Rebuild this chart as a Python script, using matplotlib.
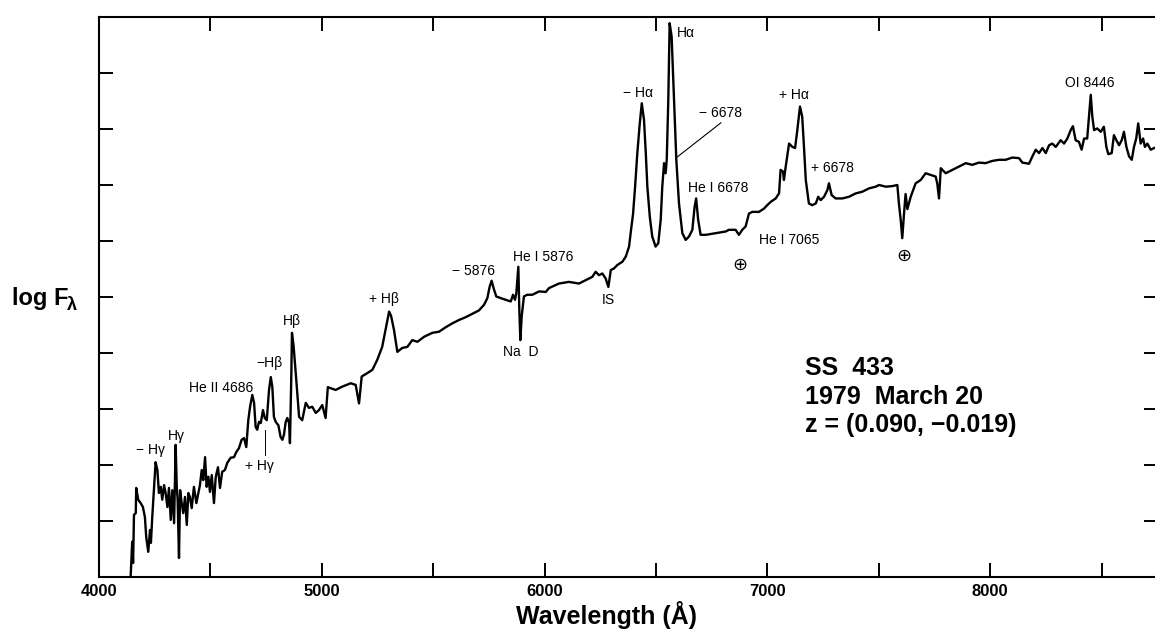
import numpy as np
import matplotlib
matplotlib.use('Agg')
import matplotlib.pyplot as plt
from matplotlib.ticker import MultipleLocator, NullFormatter

plt.rcParams['font.family'] = ['Liberation Sans', 'DejaVu Sans']

# spectrum of SS 433 (wavelength in A, log F in arbitrary axis units 0-10)
wavelength = [4142, 4149, 4153, 4157, 4165, 4167, 4176, 4187, 4197, 4206, 4212, 4221, 4229, 4233, 4239,
              4247, 4254, 4262, 4269, 4277, 4284, 4292, 4299, 4307, 4314, 4322, 4329, 4337, 4344, 4349,
              4353, 4359, 4364, 4371, 4378, 4386, 4394, 4401, 4408, 4416, 4426, 4437, 4446, 4453, 4461,
              4468, 4476, 4483, 4491, 4498, 4506, 4516, 4524, 4534, 4543, 4553, 4565, 4576, 4591, 4606,
              4616, 4628, 4640, 4651, 4661, 4670, 4678, 4688, 4696, 4703, 4710, 4718, 4726, 4736, 4744,
              4753, 4763, 4771, 4778, 4785, 4793, 4805, 4815, 4823, 4830, 4838, 4845, 4853, 4857, 4863,
              4866, 4873, 4883, 4898, 4912, 4928, 4942, 4957, 4973, 4987, 5002, 5017, 5027, 5062, 5092,
              5130, 5152, 5167, 5179, 5204, 5227, 5249, 5271, 5289, 5302, 5311, 5324, 5339, 5361, 5384,
              5406, 5429, 5459, 5496, 5526, 5556, 5586, 5616, 5646, 5675, 5705, 5728, 5743, 5753, 5762,
              5773, 5783, 5803, 5825, 5848, 5858, 5867, 5873, 5882, 5886, 5891, 5897, 5907, 5922, 5945,
              5975, 6005, 6020, 6064, 6109, 6154, 6184, 6214, 6229, 6244, 6259, 6274, 6286, 6297, 6311,
              6326, 6349, 6364, 6379, 6386, 6397, 6406, 6416, 6427, 6436, 6446, 6454, 6461, 6472, 6483,
              6498, 6510, 6521, 6528, 6536, 6543, 6548, 6555, 6561, 6570, 6581, 6591, 6603, 6618, 6633,
              6648, 6663, 6673, 6680, 6689, 6700, 6723, 6768, 6813, 6827, 6857, 6872, 6887, 6902, 6917,
              6932, 6962, 6985, 6999, 7015, 7037, 7052, 7059, 7070, 7074, 7082, 7097, 7112, 7124, 7134,
              7146, 7156, 7164, 7172, 7186, 7201, 7217, 7228, 7239, 7254, 7269, 7276, 7288, 7306, 7336,
              7366, 7396, 7426, 7456, 7486, 7501, 7531, 7560, 7583, 7590, 7598, 7605, 7613, 7620, 7628,
              7643, 7665, 7688, 7710, 7733, 7755, 7762, 7770, 7778, 7800, 7830, 7860, 7890, 7919, 7949,
              7979, 8009, 8039, 8069, 8099, 8129, 8144, 8174, 8189, 8204, 8219, 8234, 8249, 8264, 8278,
              8294, 8316, 8331, 8346, 8361, 8371, 8383, 8398, 8410, 8421, 8435, 8443, 8451, 8458, 8466,
              8480, 8496, 8510, 8521, 8530, 8545, 8555, 8566, 8578, 8590, 8600, 8611, 8623, 8635, 8645,
              8655, 8664, 8675, 8686, 8694, 8705, 8720, 8735]

log_flux = [0.00, 0.63, 0.25, 1.11, 1.14, 1.59, 1.38, 1.32, 1.25, 1.07, 0.71, 0.45, 0.84, 0.61, 1.07,
            1.61, 2.05, 1.91, 1.50, 1.61, 1.38, 1.64, 1.50, 1.25, 1.59, 1.02, 1.55, 0.96, 2.36, 1.61,
            1.38, 0.34, 1.55, 1.32, 1.14, 1.43, 0.93, 1.50, 1.43, 1.23, 1.61, 1.32, 1.50, 1.64, 1.91,
            1.73, 2.14, 1.61, 1.79, 1.52, 1.82, 1.32, 1.79, 1.96, 1.59, 1.88, 1.91, 2.04, 2.13, 2.14,
            2.23, 2.30, 2.45, 2.48, 2.32, 2.80, 3.04, 3.25, 3.11, 2.68, 2.63, 2.77, 2.75, 2.98, 2.84,
            2.80, 3.34, 3.57, 3.39, 2.86, 2.77, 2.71, 2.50, 2.45, 2.54, 2.77, 2.84, 2.75, 2.39, 3.57,
            4.36, 4.14, 3.64, 2.86, 2.80, 3.11, 3.02, 3.04, 2.93, 2.98, 3.07, 2.84, 3.39, 3.34, 3.40,
            3.46, 3.43, 3.10, 3.58, 3.64, 3.70, 3.88, 4.11, 4.47, 4.74, 4.66, 4.41, 4.02, 4.09, 4.11,
            4.23, 4.20, 4.29, 4.36, 4.38, 4.46, 4.53, 4.59, 4.64, 4.70, 4.76, 4.86, 4.98, 5.18, 5.29,
            5.13, 5.01, 4.98, 4.95, 4.92, 5.04, 4.95, 5.07, 5.54, 4.83, 4.23, 4.65, 5.01, 5.04, 5.04,
            5.10, 5.09, 5.16, 5.24, 5.27, 5.24, 5.30, 5.36, 5.45, 5.39, 5.42, 5.33, 5.18, 5.48, 5.51,
            5.57, 5.63, 5.72, 5.90, 6.14, 6.49, 6.97, 7.57, 8.10, 8.46, 8.16, 7.57, 6.97, 6.43, 6.08,
            5.90, 5.96, 6.38, 6.97, 7.39, 7.21, 7.45, 8.52, 9.89, 9.65, 8.52, 7.45, 6.67, 6.14, 6.02,
            6.08, 6.20, 6.61, 6.76, 6.38, 6.11, 6.11, 6.14, 6.17, 6.20, 6.20, 6.11, 6.20, 6.26, 6.49,
            6.52, 6.52, 6.58, 6.64, 6.70, 6.76, 6.85, 7.27, 7.24, 7.09, 7.33, 7.74, 7.68, 7.66, 7.98,
            8.40, 8.22, 7.68, 7.09, 6.67, 6.64, 6.67, 6.79, 6.73, 6.79, 6.91, 7.03, 6.82, 6.76, 6.76,
            6.79, 6.85, 6.88, 6.94, 6.97, 7.00, 6.97, 6.98, 7.00, 6.67, 6.38, 6.05, 6.49, 6.84, 6.57,
            6.79, 7.03, 7.09, 7.21, 7.18, 7.15, 7.03, 6.76, 7.30, 7.21, 7.27, 7.33, 7.39, 7.36, 7.40,
            7.39, 7.43, 7.45, 7.45, 7.49, 7.48, 7.40, 7.38, 7.51, 7.63, 7.57, 7.66, 7.57, 7.71, 7.74,
            7.68, 7.80, 7.74, 7.83, 7.98, 8.05, 7.80, 7.77, 7.63, 7.83, 7.83, 8.22, 8.61, 8.22, 7.98,
            8.01, 7.95, 8.04, 7.68, 7.55, 7.57, 7.89, 7.80, 7.71, 7.80, 7.95, 7.68, 7.51, 7.45, 7.68,
            7.83, 8.10, 7.74, 7.83, 7.68, 7.74, 7.63, 7.66]

# line identifications: label, wavelength, height
line_labels = ['\u2212 H\u03b3', 'H\u03b3', 'He II 4686', '\u2212H\u03b2', 'H\u03b2', '+ H\u03b3',
               '+ H\u03b2', '\u2212 5876', 'He I 5876', 'Na  D', 'IS', '\u2212 H\u03b1', 'H\u03b1',
               '\u2212 6678', 'He I 6678', '+ H\u03b1', '+ 6678', 'He I 7065', '\u2295', '\u2295',
               'OI 8446']
label_wl = [4233, 4346, 4548, 4763, 4866, 4718, 5279, 5679, 5992, 5894, 6284, 6419, 6634,
            6790, 6778, 7119, 7290, 7097, 6877, 7613, 8447]
label_y = [2.27, 2.52, 3.38, 3.82, 4.57, 1.98, 4.96, 5.47, 5.71, 4.02, 4.95, 8.64, 9.71,
           8.29, 6.95, 8.61, 7.30, 6.02, 5.57, 5.72, 8.82]

info_lines = ['SS  433', '1979  March 20', 'z = (0.090, \u22120.019)']

W, H = 1155, 631
fig = plt.figure(figsize=(W / 100, H / 100), dpi=100)
ax = fig.add_axes([99 / W, 1 - 577 / H, (1158 - 99) / W, (577 - 17) / H])

ax.plot(wavelength, log_flux, color='black', lw=1.7)

for lab, x, y in zip(line_labels, label_wl, label_y):
    fs = 13 if lab == '\u2295' else 10
    ax.text(x, y, lab, ha='center', va='center', fontsize=fs, color='black')

# leader lines
ax.plot([6791, 6595], [8.11, 7.50], color='black', lw=0.8)
ax.plot([4744, 4744], [2.63, 2.18], color='black', lw=0.7)

ax.set_xlim(4000, 4000 + (1158 - 99) * 4.488)
ax.set_ylim(0, 10)
ax.xaxis.set_major_locator(MultipleLocator(1000))
ax.xaxis.set_minor_locator(MultipleLocator(500))
ax.yaxis.set_major_locator(MultipleLocator(1))
ax.yaxis.set_major_formatter(NullFormatter())
ax.tick_params(which='both', direction='in', length=10, width=1.4,
               top=True, right=True, bottom=True, left=True)
ax.tick_params(axis='x', which='major', labelsize=12, pad=5)
for t in ax.get_xticklabels():
    t.set_fontweight('bold')
for s in ax.spines.values():
    s.set_linewidth(1.5)

fig.text(607 / W, 1 - 615 / H, 'Wavelength (\u00c5)', ha='center', va='center',
         fontsize=18, fontweight='bold')
fig.text(12 / W, 1 - 298 / H, 'log F', ha='left', va='center', fontsize=17, fontweight='bold')
fig.text(67 / W, 1 - 306 / H, '\u03bb', ha='left', va='center', fontsize=13, fontweight='bold')

for i, s in enumerate(info_lines):
    fig.text(805 / W, 1 - (368 + 28.5 * i) / H, s, ha='left', va='center',
             fontsize=18, fontweight='bold')

fig.savefig('out.png', dpi=100)
